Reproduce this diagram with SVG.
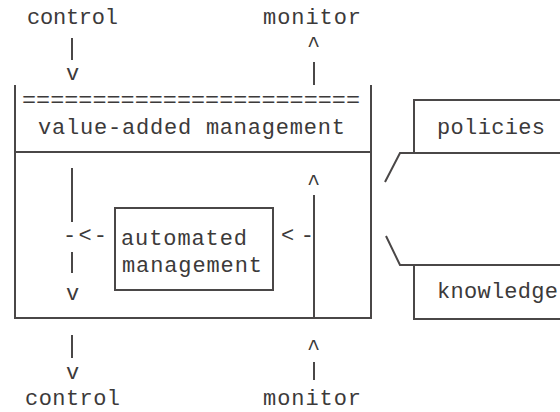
<svg xmlns="http://www.w3.org/2000/svg" width="560" height="412" viewBox="0 0 560 412">
<style>
text{font-family:"Liberation Mono","DejaVu Sans Mono",monospace;font-size:22px;fill:#3c3a3a}
.ln{stroke:#4a4747;stroke-width:2;fill:none}
</style>
<rect width="560" height="412" fill="#fff"/>
<g id="top-labels">
<text x="27" y="24" textLength="91" lengthAdjust="spacing">control</text>
<text x="263" y="24" textLength="98" lengthAdjust="spacing">monitor</text>
</g>
<g id="value-added-management">
<path class="ln" d="M15 85 V318 H371 V85 M15 152 H371"/>
<text x="22" y="107" textLength="338" lengthAdjust="spacingAndGlyphs">========================</text>
<text x="38" y="134" textLength="307" lengthAdjust="spacing">value-added management</text>
</g>
<g id="automated-management">
<rect class="ln" x="115" y="208" width="158" height="82"/>
<text x="121" y="245" textLength="126" lengthAdjust="spacing">automated</text>
<text x="122" y="272" textLength="140" lengthAdjust="spacing">management</text>
</g>
<g id="policies-knowledge">
<path class="ln" d="M560 100 H414 V153 M560 153 H400 L385 182 M386 236 L400 265 H560 M414 265 V319 H560"/>
<text x="437" y="134" textLength="108" lengthAdjust="spacing">policies</text>
<text x="437" y="298" textLength="121" lengthAdjust="spacing">knowledge</text>
</g>
<g id="connectors">
<path class="ln" d="M72 38 V60 M314 62 V85 M72 168 V222 M72 252 V273 M314 195 V318 M72 335 V358 M314 362 V380"/>
<text x="66" y="80">v</text>
<text x="307" y="52">^</text>
<text x="63" y="242" textLength="44" lengthAdjust="spacing">-&lt;-</text>
<text x="281" y="242" textLength="33" lengthAdjust="spacing">&lt;-</text>
<text x="307" y="190">^</text>
<text x="66" y="300">v</text>
<text x="66" y="379">v</text>
<text x="307" y="355">^</text>
</g>
<g id="bottom-labels">
<text x="25" y="405" textLength="95" lengthAdjust="spacing">control</text>
<text x="263" y="405" textLength="98" lengthAdjust="spacing">monitor</text>
</g>
</svg>
